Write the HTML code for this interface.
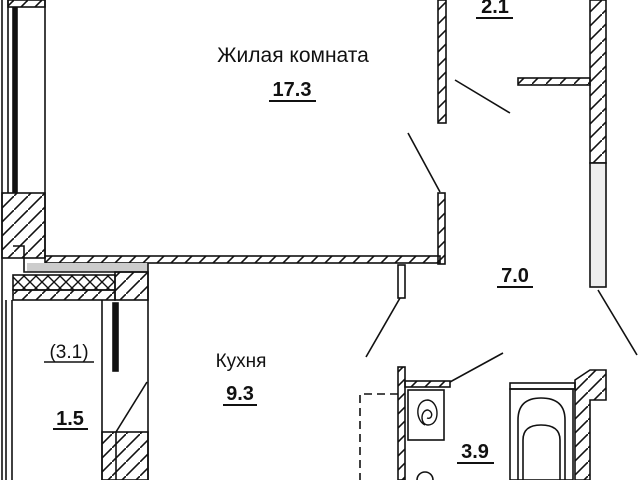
<!DOCTYPE html>
<html><head><meta charset="utf-8"><style>
html,body{margin:0;padding:0;background:#fff;}
svg{display:block}
text{font-family:"Liberation Sans","DejaVu Sans",sans-serif;fill:#111}
</style></head><body>
<svg width="640" height="480" viewBox="0 0 640 480" xmlns="http://www.w3.org/2000/svg">
<defs>
<pattern id="h" width="14" height="14" patternUnits="userSpaceOnUse">
<path d="M0 14 L14 0" stroke="#111" stroke-width="1.6"/>
</pattern>
<pattern id="x" width="12" height="12" patternUnits="userSpaceOnUse">
<path d="M0 12 L12 0 M0 0 L12 12" stroke="#111" stroke-width="1.4"/>
</pattern>
</defs>
<g stroke="#111" stroke-width="1.6" fill="none">
<line x1="2" y1="0" x2="2" y2="300"/>
<line x1="8" y1="0" x2="8" y2="193"/>
<rect x="13" y="8" width="4" height="184" fill="#111"/>
<line x1="45" y1="0" x2="45" y2="258"/>
<rect x="8" y="0" width="37" height="7" fill="url(#h)"/>
<rect x="2" y="193" width="43" height="65" fill="url(#h)"/>
<rect x="45" y="256" width="395" height="7" fill="url(#h)"/>
<rect x="27" y="263" width="121" height="9" fill="#ccc" stroke="none"/>
<polyline points="13,246 24,246 24,272 148,272"/>
<rect x="13" y="275" width="102" height="15" fill="url(#x)"/>
<rect x="13" y="290" width="102" height="10" fill="url(#h)"/>
<rect x="115" y="272" width="33" height="28" fill="url(#h)"/>
<line x1="148" y1="263" x2="148" y2="480"/>
<line x1="2" y1="300" x2="2" y2="480"/>
<line x1="6" y1="300" x2="6" y2="480"/>
<line x1="12" y1="300" x2="12" y2="480"/>
<line x1="102" y1="300" x2="102" y2="480"/>
<rect x="113" y="303" width="5" height="68" fill="#111"/>
<rect x="102" y="432" width="46" height="48" fill="url(#h)"/>
<line x1="116" y1="432" x2="147" y2="382"/>
<line x1="116" y1="432" x2="116" y2="480"/>
<rect x="438" y="193" width="7" height="71" fill="url(#h)"/>
<line x1="408" y1="133" x2="440" y2="192"/>
<rect x="438" y="0" width="8" height="123" fill="url(#h)"/>
<line x1="455" y1="80" x2="510" y2="113"/>
<rect x="518" y="78" width="72" height="7" fill="url(#h)"/>
<rect x="590" y="0" width="16" height="163" fill="url(#h)"/>
<rect x="590" y="163" width="16" height="124" fill="#eee"/>
<line x1="598" y1="290" x2="637" y2="355"/>
<rect x="398" y="265" width="7" height="33"/>
<line x1="400" y1="298" x2="366" y2="357"/>
<rect x="398" y="367" width="7" height="113" fill="url(#h)"/>
<rect x="405" y="381" width="45" height="6" fill="url(#h)"/>
<line x1="450" y1="382" x2="503" y2="353"/>
<rect x="408" y="390" width="36" height="50"/>
<path d="M425 425 C415 420 415 400 428 400 C440 402 440 425 428 425 C420 425 420 410 428 410 C434 412 432 420 427 418" stroke-width="1.4"/>
<path d="M398 394 L360 394 L360 480" stroke-dasharray="8 5"/>
<rect x="510" y="383" width="65" height="6"/>
<rect x="510" y="389" width="63" height="91"/>
<path d="M518 480 L518 420 Q518 398 541 398 Q565 398 565 420 L565 480"/>
<path d="M523 480 L523 440 Q523 425 541 425 Q560 425 560 440 L560 480"/>
<path d="M575 380 L590 370 L606 370 L606 400 L590 400 L590 480 L575 480 Z" fill="url(#h)"/>
<circle cx="425" cy="480" r="8"/>
</g>
<text x="293" y="62" font-size="21" text-anchor="middle">Жилая комната</text>
<text x="292" y="96" font-size="20" font-weight="bold" text-anchor="middle">17.3</text>
<line x1="269" y1="101" x2="316" y2="101" stroke="#111" stroke-width="2"/>
<text x="495" y="13" font-size="20" font-weight="bold" text-anchor="middle">2.1</text>
<line x1="476" y1="18" x2="513" y2="18" stroke="#111" stroke-width="2"/>
<text x="515" y="282" font-size="20" font-weight="bold" text-anchor="middle">7.0</text>
<line x1="497" y1="287" x2="533" y2="287" stroke="#111" stroke-width="2"/>
<text x="241" y="367" font-size="19" text-anchor="middle">Кухня</text>
<text x="240" y="400" font-size="20" font-weight="bold" text-anchor="middle">9.3</text>
<line x1="223" y1="405" x2="257" y2="405" stroke="#111" stroke-width="2"/>
<text x="69" y="358" font-size="19" text-anchor="middle">(3.1)</text>
<line x1="44" y1="362" x2="94" y2="362" stroke="#111" stroke-width="1.4"/>
<text x="70" y="425" font-size="20" font-weight="bold" text-anchor="middle">1.5</text>
<line x1="53" y1="429" x2="88" y2="429" stroke="#111" stroke-width="2"/>
<text x="475" y="458" font-size="20" font-weight="bold" text-anchor="middle">3.9</text>
<line x1="457" y1="463" x2="494" y2="463" stroke="#111" stroke-width="2"/>
</svg>
</body></html>
